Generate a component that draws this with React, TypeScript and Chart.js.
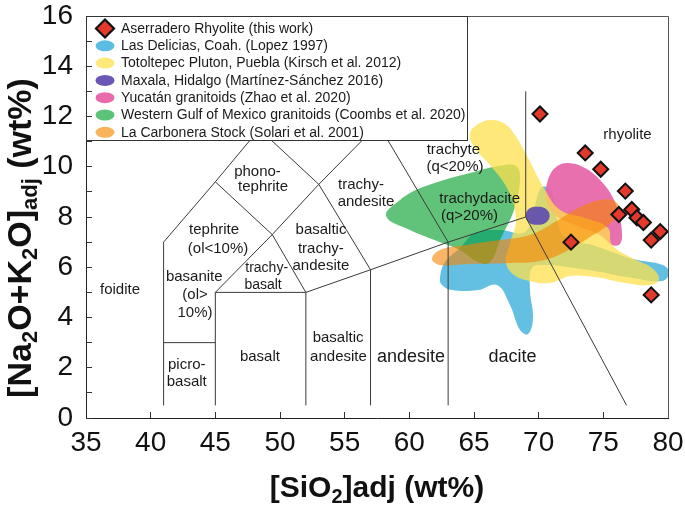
import React, { useEffect, useRef } from 'react';
import { Chart, registerables } from 'chart.js';

Chart.register(...registerables);

// ---------- axis ticks ----------
const xTickValues = [35, 40, 45, 50, 55, 60, 65, 70, 75, 80];
const yTickValues = [0, 2, 4, 6, 8, 10, 12, 14, 16];

// ---------- series names (legend) ----------
const seriesNames = [
  'Aserradero Rhyolite (this work)',
  'Las Delicias, Coah. (Lopez 1997)',
  'Totoltepec Pluton, Puebla (Kirsch et al. 2012)',
  'Maxala, Hidalgo (Martínez-Sánchez 2016)',
  'Yucatán granitoids (Zhao et al. 2020)',
  'Western Gulf of Mexico granitoids (Coombs et al. 2020)',
  'La Carbonera Stock (Solari et al. 2001)',
];

// ---------- Aserradero Rhyolite samples ----------
const aserraderoSiO2 = [70.1, 73.6, 74.8, 76.7, 77.2, 76.2, 77.6, 78.1, 79.4, 78.7, 72.5, 78.7];
const aserraderoAlkali = [12.1, 10.55, 9.9, 9.03, 8.3, 8.1, 7.97, 7.78, 7.42, 7.08, 7.0, 4.9];

// ---------- field outlines of the other suites ----------
const deliciasSiO2 = [62.37, 62.76, 63.92, 65.08, 67.01, 68.94, 69.72, 70.26, 71.03, 71.34, 72.04, 74.36, 77.29, 79.61, 80.1, 79.54, 77.29, 74.74, 72.81, 70.49, 69.49, 69.33, 69.56, 69.18, 68.56, 67.78, 66.78, 65.31, 63.3, 62.53];
const deliciasAlkali = [5.57, 6.21, 6.77, 7.36, 7.48, 7.4, 8.48, 9.19, 9.0, 8.08, 7.2, 6.85, 6.33, 6.09, 5.77, 5.45, 5.57, 5.81, 5.97, 6.09, 5.97, 5.09, 3.98, 3.34, 3.5, 4.5, 5.29, 5.09, 5.09, 5.29];

const totoltepecSiO2 = [64.69, 65.46, 66.39, 67.4, 68.17, 69.18, 70.49, 71.65, 73.58, 75.36, 75.67, 77.22, 78.76, 79.31, 78.61, 76.68, 74.36, 72.42, 70.88, 69.33, 68.09, 67.47, 67.78, 68.25, 67.63, 66.24, 65.0];
const totoltepecAlkali = [11.34, 11.74, 11.86, 11.7, 11.26, 10.35, 9.07, 8.28, 7.96, 7.56, 6.89, 6.37, 5.97, 5.53, 5.29, 5.37, 5.61, 5.65, 5.37, 5.45, 5.69, 6.21, 6.97, 7.88, 9.07, 10.07, 10.79];

const maxalaSiO2 = [69.0, 69.25, 69.9, 70.55, 70.85, 70.55, 69.9, 69.25];
const maxalaAlkali = [8.05, 8.33, 8.41, 8.33, 8.05, 7.77, 7.69, 7.77];

const yucatanSiO2 = [70.72, 71.34, 72.27, 73.58, 74.74, 75.67, 76.21, 76.44, 76.29, 75.67, 74.74, 72.81, 71.26, 70.57];
const yucatanAlkali = [9.47, 9.99, 10.15, 9.95, 9.47, 8.84, 8.12, 7.36, 6.93, 6.89, 7.28, 7.68, 8.08, 8.68];

const westernGulfSiO2 = [58.2, 59.28, 61.06, 64.69, 67.4, 68.33, 68.56, 68.09, 67.01, 66.24, 65.31, 63.92, 62.37, 60.05];
const westernGulfAlkali = [8.04, 8.68, 9.19, 9.75, 10.07, 9.99, 9.47, 8.28, 7.08, 6.21, 6.21, 6.69, 7.0, 7.48];

const carboneraSiO2 = [61.75, 62.37, 64.46, 67.01, 69.33, 71.26, 73.2, 74.74, 75.83, 76.29, 75.67, 73.97, 72.04, 70.1, 67.78, 64.69, 62.37];
const carboneraAlkali = [6.33, 6.69, 6.89, 7.08, 7.28, 7.8, 8.4, 8.68, 8.64, 8.28, 7.8, 7.2, 6.61, 6.25, 6.17, 6.13, 6.09];

// ---------- TAS field boundaries (Le Bas et al. 1986) ----------
const tasLineSiO2 = [
  [41, 41],
  [41, 45],
  [45, 45],
  [45, 52],
  [52, 52],
  [52, 57, 63, 69],
  [57, 57],
  [63, 63],
  [69, 69],
  [69, 76.8],
  [45, 49.4, 52],
  [41, 45, 49.4, 53, 57],
  [45, 48.4, 53, 57.6, 63],
];
const tasLineAlkali = [
  [0.5, 7],
  [3, 3],
  [0.5, 5],
  [5, 5],
  [0.5, 5],
  [5, 5.9, 7, 8],
  [0.5, 5.9],
  [0.5, 7],
  [8, 13],
  [8, 0.5],
  [5, 7.3, 5],
  [7, 9.4, 7.3, 9.3, 5.9],
  [9.4, 11.5, 9.3, 11.7, 7],
];

// ---------- TAS field names ----------
const fieldText = ['foidite', 'picro-', 'basalt', 'basalt', 'basaltic', 'andesite', 'andesite', 'dacite', 'basanite', '(ol>', '10%)', 'tephrite', '(ol<10%)', 'trachy-', 'basalt', 'phono-', 'tephrite', 'basaltic', 'trachy-', 'andesite', 'trachy-', 'andesite', 'trachyte', '(q<20%)', 'trachydacite', '(q>20%)', 'rhyolite'];
const fieldTextSiO2 = [37.63, 42.79, 42.79, 48.45, 54.49, 54.52, 60.13, 67.98, 43.37, 43.43, 43.43, 44.9, 45.21, 48.97, 48.69, 48.26, 48.69, 53.17, 53.16, 53.16, 56.26, 56.65, 63.4, 63.53, 65.44, 64.65, 76.87];
const fieldTextAlkali = [5.09, 2.11, 1.44, 2.44, 3.17, 2.44, 2.44, 2.44, 5.62, 4.9, 4.19, 7.48, 6.75, 5.96, 5.29, 9.8, 9.18, 7.48, 6.75, 6.06, 9.27, 8.61, 10.69, 9.98, 8.74, 8.04, 11.26];
const fieldTextSize = [15, 15, 15, 15, 15, 15, 18, 18, 15, 15, 15, 15, 15, 14, 14, 15, 15, 15, 15, 15, 15, 15, 15, 15, 15, 15, 15];

const FONT = '"Liberation Sans", Arial, Helvetica, sans-serif';

const legendColors = ['#e2392b', '#5bbde2', '#fde87a', '#6b55b5', '#e86aab', '#5cc47a', '#f9b35a'];
const fieldFill = {
  delicias: 'rgba(91,189,226,0.95)',
  totoltepec: 'rgba(253,224,78,0.75)',
  maxala: 'rgba(96,76,176,0.92)',
  yucatan: 'rgba(232,104,170,0.95)',
  westernGulf: 'rgba(0,157,40,0.62)',
  carbonera: 'rgba(246,132,0,0.6)',
};

const toPoints = (xs: number[], ys: number[]) => xs.map((x, i) => ({ x, y: ys[i] }));

function blob(label: string, xs: number[], ys: number[], color: string, order: number) {
  return {
    label,
    data: toPoints(xs, ys),
    showLine: true,
    fill: 'shape',
    closed: true,
    backgroundColor: color,
    borderColor: 'transparent',
    borderWidth: 0,
    pointRadius: 0,
    pointHoverRadius: 0,
    tension: 0.4,
    order,
  };
}

function drawRich(ctx: CanvasRenderingContext2D, parts: [string, boolean][], cx: number, base: number, big: number, small: number, drop: number) {
  const fBig = `bold ${big}px ${FONT}`;
  const fSmall = `bold ${small}px ${FONT}`;
  let total = 0;
  const widths = parts.map(([t, sub]) => {
    ctx.font = sub ? fSmall : fBig;
    const w = ctx.measureText(t).width;
    total += w;
    return w;
  });
  let x = cx - total / 2;
  ctx.textAlign = 'left';
  ctx.textBaseline = 'alphabetic';
  parts.forEach(([t, sub], i) => {
    ctx.font = sub ? fSmall : fBig;
    ctx.fillText(t, x, sub ? base + drop : base);
    x += widths[i];
  });
}

const overlayPlugin = {
  id: 'tasOverlay',
  afterDatasetUpdate(chart: any, args: any) {
    const ds = chart.data.datasets[args.index];
    if (ds && ds.closed && args.meta.dataset) {
      args.meta.dataset._loop = true;
      args.meta.dataset._fullLoop = true;
    }
  },
  afterDatasetsDraw(chart: any) {
    const ctx: CanvasRenderingContext2D = chart.ctx;
    const { left, right, top, bottom } = chart.chartArea;
    const xs = chart.scales.x;
    const ys = chart.scales.y;
    ctx.save();
    // field names
    ctx.fillStyle = '#1a1a1a';
    ctx.textAlign = 'center';
    ctx.textBaseline = 'middle';
    fieldText.forEach((t, i) => {
      ctx.font = `${fieldTextSize[i]}px ${FONT}`;
      ctx.fillText(t, xs.getPixelForValue(fieldTextSiO2[i]), ys.getPixelForValue(fieldTextAlkali[i]));
    });
    // frame (top & right)
    ctx.strokeStyle = '#555';
    ctx.lineWidth = 1;
    ctx.beginPath();
    ctx.moveTo(left, top + 0.5);
    ctx.lineTo(right + 0.5, top + 0.5);
    ctx.lineTo(right + 0.5, bottom);
    ctx.stroke();
    // legend box
    const lx = left, ly = top + 0.5, lw = 381, lh = 124;
    ctx.fillStyle = '#ffffff';
    ctx.fillRect(lx, ly, lw, lh);
    ctx.strokeStyle = '#333';
    ctx.strokeRect(lx + 0.5, ly, lw, lh);
    ctx.textAlign = 'left';
    ctx.textBaseline = 'middle';
    ctx.font = `14px ${FONT}`;
    seriesNames.forEach((name, i) => {
      const cy = top + 12.5 + i * 17.3;
      const mx = left + 19;
      if (i === 0) {
        ctx.beginPath();
        ctx.moveTo(mx, cy - 9);
        ctx.lineTo(mx + 9, cy);
        ctx.lineTo(mx, cy + 9);
        ctx.lineTo(mx - 9, cy);
        ctx.closePath();
        ctx.fillStyle = legendColors[0];
        ctx.fill();
        ctx.lineWidth = 2.2;
        ctx.strokeStyle = '#111';
        ctx.stroke();
      } else {
        ctx.beginPath();
        ctx.ellipse(mx, cy, 9.5, 5.5, 0, 0, Math.PI * 2);
        ctx.fillStyle = legendColors[i];
        ctx.fill();
      }
      ctx.fillStyle = '#1a1a1a';
      ctx.fillText(name, left + 35, cy + 0.5);
    });
    ctx.restore();
    // re-draw the inward y ticks over the legend box
    ys.drawGrid(chart.chartArea);
  },
  afterDraw(chart: any) {
    const ctx: CanvasRenderingContext2D = chart.ctx;
    const { left, right } = chart.chartArea;
    ctx.save();
    ctx.fillStyle = '#111';
    drawRich(ctx, [['[SiO', false], ['2', true], [']adj (wt%)', false]], (left + right) / 2, 497, 30, 20, 6);
    ctx.translate(31, 238);
    ctx.rotate(-Math.PI / 2);
    drawRich(ctx, [['[Na', false], ['2', true], ['O+K', false], ['2', true], ['O]', false], ['adj', true], [' (wt%)', false]], 0, 0, 34, 22, 6);
    ctx.restore();
  },
};

export default function App() {
  const ref = useRef<HTMLCanvasElement | null>(null);
  useEffect(() => {
    if (!ref.current) return;
    const tasDatasets = tasLineSiO2.map((xs, i) => ({
      label: 'TAS boundary ' + i,
      data: toPoints(xs, tasLineAlkali[i]),
      showLine: true,
      fill: false,
      borderColor: '#3a3a3a',
      borderWidth: 1,
      pointRadius: 0,
      pointHoverRadius: 0,
      tension: 0,
      order: 1,
    }));
    const chart = new Chart(ref.current, {
      type: 'scatter',
      data: {
        datasets: [
          {
            label: seriesNames[0],
            data: toPoints(aserraderoSiO2, aserraderoAlkali),
            pointStyle: 'rectRot',
            pointRadius: 7.5,
            pointBackgroundColor: legendColors[0],
            pointBorderColor: '#111',
            pointBorderWidth: 2,
            backgroundColor: legendColors[0],
            borderColor: '#111',
            order: 0,
          },
          ...tasDatasets,
          blob(seriesNames[3], maxalaSiO2, maxalaAlkali, fieldFill.maxala, 2),
          blob(seriesNames[6], carboneraSiO2, carboneraAlkali, fieldFill.carbonera, 3),
          blob(seriesNames[2], totoltepecSiO2, totoltepecAlkali, fieldFill.totoltepec, 4),
          blob(seriesNames[4], yucatanSiO2, yucatanAlkali, fieldFill.yucatan, 5),
          blob(seriesNames[5], westernGulfSiO2, westernGulfAlkali, fieldFill.westernGulf, 6),
          blob(seriesNames[1], deliciasSiO2, deliciasAlkali, fieldFill.delicias, 7),
        ] as any,
      },
      options: {
        responsive: false,
        animation: false,
        devicePixelRatio: 1,
        layout: { padding: { top: 16, right: 17, left: 0, bottom: 0 } },
        plugins: { legend: { display: false }, tooltip: { enabled: false } },
        scales: {
          x: {
            type: 'linear',
            position: 'bottom',
            min: 35,
            max: 80,
            afterBuildTicks: (scale: any) => {
              scale.ticks = xTickValues.map((v) => ({ value: v }));
            },
            ticks: { autoSkip: false, maxRotation: 0, padding: 14, color: '#111', font: { family: FONT, size: 28 } },
            grid: { drawOnChartArea: false, drawTicks: true, tickLength: -6, tickColor: '#333', color: '#333' },
            border: { display: true, color: '#222', width: 1 },
            afterFit: (scale: any) => {
              scale.height = 90;
              scale.paddingLeft = 0;
              scale.paddingRight = 0;
            },
          },
          y: {
            type: 'linear',
            min: 0,
            max: 16,
            ticks: {
              stepSize: 1,
              autoSkip: false,
              padding: 19,
              color: '#111',
              font: { family: FONT, size: 28 },
              callback: (v: any) => (yTickValues.includes(Number(v)) ? String(v) : ''),
            },
            grid: { drawOnChartArea: false, drawTicks: true, tickLength: -6, tickColor: '#333', color: '#333' },
            border: { display: true, color: '#222', width: 1 },
            afterFit: (scale: any) => {
              scale.width = 86;
              scale.paddingTop = 0;
              scale.paddingBottom = 0;
            },
          },
        },
      } as any,
      plugins: [overlayPlugin],
    });
    return () => chart.destroy();
  }, []);
  return (
    <div style={{ position: 'absolute', left: 0, top: 0, width: 685, height: 508, background: '#fff' }}>
      <canvas ref={ref} width={685} height={508} />
    </div>
  );
}
